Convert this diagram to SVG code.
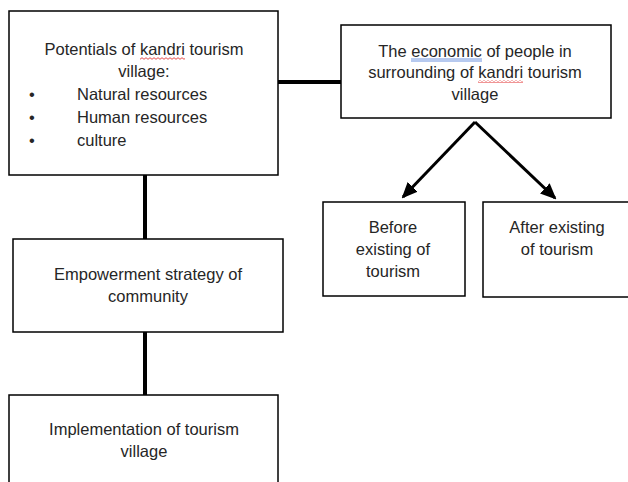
<svg xmlns="http://www.w3.org/2000/svg" width="628" height="482" viewBox="0 0 628 482">
  <style>
    .box { fill: #ffffff; stroke: #000000; stroke-width: 1.5; }
    .t { font-family: "Liberation Sans", Arial, sans-serif; font-size: 16.5px; fill: #262626; }
    .c { text-anchor: middle; }
    .conn { stroke: #000000; stroke-width: 4; fill: none; }
    .arr { stroke: #000000; stroke-width: 3; fill: none; }
  </style>
  <defs>
    <marker id="ah" viewBox="0 0 16 14" refX="14" refY="7" markerUnits="userSpaceOnUse" markerWidth="16" markerHeight="14" orient="auto">
      <path d="M0,0 L16,7 L0,14 z" fill="#000000"/>
    </marker>
    <pattern id="squig" width="4" height="3" patternUnits="userSpaceOnUse">
      <path d="M0 2.3 L2 0.7 L4 2.3" stroke="#e02020" stroke-width="0.8" fill="none"/>
    </pattern>
  </defs>
  <rect width="628" height="482" fill="#ffffff"/>

  <g id="connectors">
    <line class="conn" x1="278" y1="82" x2="341" y2="82"/>
    <line class="conn" x1="145" y1="175" x2="145" y2="239"/>
    <line class="conn" x1="145" y1="332" x2="145" y2="395"/>
    <line class="arr" x1="475" y1="122" x2="403" y2="197" marker-end="url(#ah)"/>
    <line class="arr" x1="475" y1="122" x2="555" y2="198" marker-end="url(#ah)"/>
  </g>

  <g id="potentials">
    <rect class="box" x="9" y="11" width="269" height="164"/>
    <text class="t c" x="144" y="55">Potentials of kandri tourism</text>
    <rect x="140" y="57" width="45" height="3" fill="url(#squig)"/>
    <text class="t c" x="144" y="77">village:</text>
    <text class="t" x="29" y="100">•</text>
    <text class="t" x="77" y="100">Natural resources</text>
    <text class="t" x="29" y="123">•</text>
    <text class="t" x="77" y="123">Human resources</text>
    <text class="t" x="29" y="146">•</text>
    <text class="t" x="77" y="146">culture</text>
  </g>

  <g id="economic">
    <rect class="box" x="341" y="25" width="270" height="93"/>
    <text class="t c" x="475" y="57">The economic of people in</text>
    <line x1="411" y1="59" x2="482" y2="59" stroke="#4a78d8" stroke-width="0.8"/>
    <line x1="411" y1="61" x2="482" y2="61" stroke="#4a78d8" stroke-width="0.8"/>
    <text class="t c" x="475" y="78">surrounding of kandri tourism</text>
    <rect x="478" y="80" width="45" height="3" fill="url(#squig)"/>
    <text class="t c" x="475" y="100">village</text>
  </g>

  <g id="before">
    <rect class="box" x="323" y="202" width="142" height="94"/>
    <text class="t c" x="393" y="233">Before</text>
    <text class="t c" x="393" y="255">existing of</text>
    <text class="t c" x="393" y="277">tourism</text>
  </g>

  <g id="after">
    <rect class="box" x="483" y="202" width="150" height="95"/>
    <text class="t c" x="557" y="233">After existing</text>
    <text class="t c" x="557" y="255">of tourism</text>
  </g>

  <g id="empowerment">
    <rect class="box" x="13" y="239" width="270" height="93"/>
    <text class="t c" x="148" y="280">Empowerment strategy of</text>
    <text class="t c" x="148" y="302">community</text>
  </g>

  <g id="implementation">
    <rect class="box" x="9" y="395" width="269" height="100"/>
    <text class="t c" x="144" y="435">Implementation of tourism</text>
    <text class="t c" x="144" y="457">village</text>
  </g>
</svg>
